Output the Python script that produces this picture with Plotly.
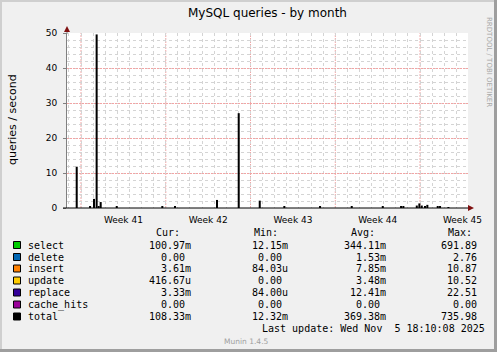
import plotly.graph_objects as go

# ---------------- data ----------------
spike_times = [
    "2025-10-05 15:30", "2025-10-06 18:00", "2025-10-07 01:45", "2025-10-07 07:00",
    "2025-10-07 11:00", "2025-10-07 15:00", "2025-10-08 22:50", "2025-10-12 17:10",
    "2025-10-13 18:20", "2025-10-17 05:35", "2025-10-19 00:35", "2025-10-20 18:15",
    "2025-10-22 19:00", "2025-10-25 17:45", "2025-10-28 08:35", "2025-10-30 22:05",
    "2025-11-01 10:20", "2025-11-01 14:55", "2025-11-02 17:30", "2025-11-02 22:35",
    "2025-11-03 03:20", "2025-11-03 09:50", "2025-11-03 14:25", "2025-11-04 11:00",
    "2025-11-04 15:35", "2025-11-05 08:10",
]
spike_totals = [
    11.8, 0.3, 2.6, 49.6,
    0.5, 1.7, 0.3, 0.3,
    0.3, 2.3, 27.1, 2.1,
    0.3, 0.3, 0.3, 0.4,
    0.4, 0.4, 0.7, 1.3,
    0.7, 0.5, 0.9, 0.3,
    0.3, 0.2,
]

week_major = ["2025-10-06", "2025-10-13", "2025-10-20", "2025-10-27", "2025-11-03"]
week_centers = ["2025-10-09 12:00", "2025-10-16 12:00", "2025-10-23 12:00",
                "2025-10-30 12:00", "2025-11-06 12:00"]
week_labels = ["Week 41", "Week 42", "Week 43", "Week 44", "Week 45"]
y_ticks = [0, 10, 20, 30, 40, 50]

series_names = ["select", "delete", "insert", "update", "replace", "cache_hits", "total"]
series_colors = ["#00CC00", "#0066B3", "#FF8000", "#FFCC00", "#330099", "#990099", "#000000"]
cur_vals = ["100.97m", "0.00 ", "3.61m", "416.67u", "3.33m", "0.00 ", "108.33m"]
min_vals = ["12.15m", "0.00 ", "84.03u", "0.00 ", "84.00u", "0.00 ", "12.32m"]
avg_vals = ["344.11m", "1.53m", "7.85m", "3.48m", "12.41m", "0.00 ", "369.38m"]
max_vals = ["691.89 ", "2.76 ", "10.87 ", "10.52 ", "22.51 ", "0.00 ", "735.98 "]

x_range = ["2025-10-04 20:15", "2025-11-06 23:00"]

# ---------------- geometry helpers ----------------
W, H = 497, 352
L, R, T, B = 67, 468, 33, 208


def px(x):
    return (x - L) / (R - L)


def py(y):
    return (B - y) / (B - T)


SANS = "DejaVu Sans"
MONO = "DejaVu Sans Mono"
NB = "\u00a0"
MINOR_COL = "#D4D4D4"
MAJOR_COL = "#F2A4A4"
DASH = "2px,1px"

fig = go.Figure()
fig.add_trace(go.Bar(
    x=spike_times, y=spike_totals, width=4 * 3600 * 1000,
    marker=dict(color="#000000", line=dict(width=0)), name="total",
    showlegend=False, hoverinfo="skip",
))

fig.update_layout(
    width=W, height=H, autosize=False,
    margin=dict(l=L, r=W - R, t=T, b=H - B, pad=0),
    paper_bgcolor="#F0F0F0", plot_bgcolor="#FFFFFF",
    showlegend=False,
    xaxis=dict(
        type="date", range=x_range, tickvals=week_centers, ticktext=week_labels,
        showgrid=False,
        minor=dict(dtick=86400000, tick0="2025-10-06", showgrid=True,
                   gridcolor=MINOR_COL, griddash="dot", gridwidth=1),
        showline=False, zeroline=False, ticks="", fixedrange=True,
        tickfont=dict(family=SANS, size=9, color="#000000"),
        ticklabelstandoff=5,
    ),
    yaxis=dict(
        range=[0, 50.01], tickvals=y_ticks, showgrid=True, gridcolor=MAJOR_COL,
        griddash=DASH, gridwidth=1,
        minor=dict(dtick=2, tick0=0, showgrid=True, gridcolor=MINOR_COL,
                   griddash="dot", gridwidth=1),
        showline=True, linecolor="#808080", linewidth=1, zeroline=False,
        ticks="outside", ticklen=3, tickcolor="#808080",
        tickfont=dict(family=SANS, size=9, color="#000000"),
        ticklabelstandoff=4, fixedrange=True,
    ),
)

shapes = []
# weekly major grid lines (Mondays)
for d in week_major:
    shapes.append(dict(type="line", xref="x", yref="paper", x0=d, x1=d, y0=0, y1=1,
                       line=dict(color=MAJOR_COL, width=1, dash=DASH), layer="below"))

ann = []


def text(x, y, s, size=10, family=MONO, color="#000000", anchor="left", angle=0):
    ann.append(dict(
        x=px(x), y=py(y), xref="paper", yref="paper", text=s.replace(" ", NB),
        showarrow=False, xanchor=anchor, yanchor="middle", textangle=angle,
        font=dict(family=family, size=size, color=color), borderpad=0,
    ))


text(267, 13, "MySQL queries - by month", size=12, family=SANS, anchor="center")
text(12, 120, "queries / second", size=11, family=SANS, anchor="center", angle=-90)
text(489, 62, "RRDTOOL / TOBI OETIKER", size=7, family=SANS, color="#A8A8A8",
     anchor="center", angle=90)
text(246, 341, "Munin 1.4.5", size=7.5, family=SANS, color="#A0A0A0", anchor="center")

# header
text(154.5, 232.3, "Cur:")
text(252.5, 232.3, "Min:")
text(349.5, 232.3, "Avg:")
text(446.5, 232.3, "Max:")

row_y = [245, 257, 268.5, 280.5, 292.5, 304.5, 316.5]
for i, name in enumerate(series_names):
    y = row_y[i]
    text(26.5, y, name)
    text(191.5, y, cur_vals[i], anchor="right")
    text(289, y, min_vals[i], anchor="right")
    text(386.5, y, avg_vals[i], anchor="right")
    text(484, y, max_vals[i], anchor="right")
    shapes.append(dict(type="rect", xref="paper", yref="paper",
                       x0=px(13.5), x1=px(20.5), y0=py(y - 3.5), y1=py(y + 3.5),
                       fillcolor=series_colors[i], line=dict(color="#000000", width=1)))

text(261, 328.7, "Last update: Wed Nov  5 18:10:08 2025")

# axis lines and arrows
arrow_col = "#7F1010"
shapes.append(dict(type="line", xref="paper", yref="paper",
                   x0=px(67), x1=px(67), y0=py(34), y1=py(29),
                   line=dict(color="#808080", width=1)))
shapes.append(dict(type="path", xref="paper", yref="paper",
                   path=f"M {px(64)} {py(32)} L {px(70)} {py(32)} L {px(67)} {py(26)} Z",
                   fillcolor=arrow_col, line=dict(color=arrow_col, width=0)))
shapes.append(dict(type="line", xref="paper", yref="paper",
                   x0=px(63), x1=px(469), y0=py(208), y1=py(208),
                   line=dict(color="#000000", width=1)))
shapes.append(dict(type="path", xref="paper", yref="paper",
                   path=f"M {px(468)} {py(205)} L {px(468)} {py(211)} L {px(474)} {py(208)} Z",
                   fillcolor=arrow_col, line=dict(color=arrow_col, width=0)))

# frame (shade)
shapes.append(dict(type="rect", xref="paper", yref="paper",
                   x0=px(0), x1=px(2), y0=py(0), y1=py(352),
                   fillcolor="#CFCFCF", line=dict(width=0), layer="above"))
shapes.append(dict(type="rect", xref="paper", yref="paper",
                   x0=px(0), x1=px(497), y0=py(0), y1=py(2),
                   fillcolor="#CFCFCF", line=dict(width=0), layer="above"))
shapes.append(dict(type="rect", xref="paper", yref="paper",
                   x0=px(494), x1=px(497), y0=py(0), y1=py(352),
                   fillcolor="#9E9E9E", line=dict(width=0), layer="above"))
shapes.append(dict(type="rect", xref="paper", yref="paper",
                   x0=px(0), x1=px(497), y0=py(349), y1=py(352),
                   fillcolor="#9E9E9E", line=dict(width=0), layer="above"))

fig.update_layout(annotations=ann, shapes=shapes)
fig.write_html("out.html", config={"displayModeBar": False})
